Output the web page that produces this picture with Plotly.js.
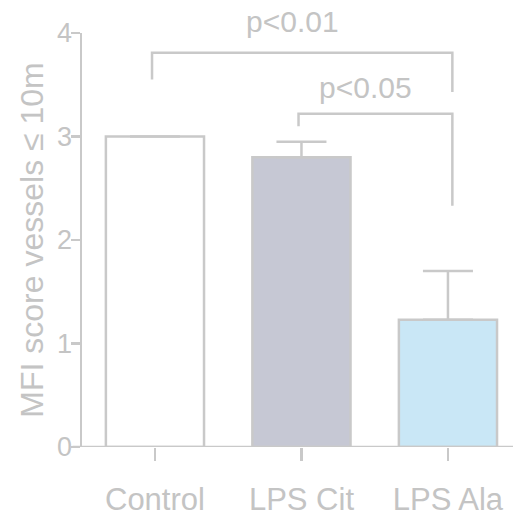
<!DOCTYPE html>
<html>
<head>
<meta charset="utf-8">
<script src="https://cdn.plot.ly/plotly-3.0.1.min.js"></script>
<style>html,body{margin:0;padding:0;background:#fff}#chart{width:513px;height:518px}</style>
</head>
<body>
<div id="chart"></div>
<script>
// Data
const categories = ["Control", "LPS Cit", "LPS Ala"];
const means = [3.0, 2.80, 1.23];
const errUp = [0, 0.15, 0.47];
const yTickVals = [0, 1, 2, 3, 4];
const yTickText = ["0", "1", "2", "3", "4"];
// significance brackets
const bracketFrom = [0, 1];
const bracketTo = [2, 2];
const bracketY = [3.81, 3.22];
const bracketLeftEnd = [3.55, 3.10];
const bracketRightEnd = [3.43, 2.33];
const bracketLabelX = [0.94, 1.44];
const bracketLabelY = [4.11, 3.47];
const bracketLabels = ["p<0.01", "p<0.05"];

const yMax = 4;
const grey = "#c9c9c9";
const textGrey = "#c4c4c4";
const fills = ["#ffffff", "#c6c8d4", "#c9e7f6"];

const trace = {
  type: "bar",
  x: categories.map((c, i) => i),
  y: means,
  width: 0.67,
  marker: {color: fills, line: {color: grey, width: 2.5}},
  error_y: {type: "data", symmetric: false, array: errUp, arrayminus: errUp.map(() => 0),
            color: grey, thickness: 2.5, width: 25, visible: true},
  hoverinfo: "none"
};

const shapes = [];
const annotations = [];
for (let k = 0; k < bracketLabels.length; k++) {
  const x0 = bracketFrom[k] - 0.02, x1 = bracketTo[k] + 0.03;
  shapes.push({type: "path", xref: "x", yref: "y",
    path: `M ${x0},${bracketLeftEnd[k]} L ${x0},${bracketY[k]} L ${x1},${bracketY[k]} L ${x1},${bracketRightEnd[k]}`,
    line: {color: grey, width: 2.5}});
  annotations.push({xref: "x", yref: "paper", x: bracketLabelX[k], y: bracketLabelY[k] / yMax,
    yanchor: "middle", text: bracketLabels[k], showarrow: false,
    font: {family: "Liberation Sans, Arial, sans-serif", size: 30, color: textGrey}});
}
// x axis baseline extending left of the y axis (Prism style)
shapes.push({type: "line", xref: "paper", yref: "y", x0: -0.022, x1: 1, y0: 0, y1: 0,
  line: {color: grey, width: 2.5}});

const layout = {
  width: 513, height: 518,
  margin: {l: 82, r: 0, t: 33, b: 71},
  paper_bgcolor: "#fff", plot_bgcolor: "#fff",
  showlegend: false,
  xaxis: {range: [-0.498, 2.444], tickvals: [0, 1, 2], ticktext: categories,
    showline: false, showgrid: false, zeroline: false,
    ticks: "outside", ticklen: 13, tickwidth: 2.5, tickcolor: grey, ticklabelstandoff: 12,
    tickfont: {family: "Liberation Sans, Arial, sans-serif", size: 31, color: textGrey},
    fixedrange: true},
  yaxis: {range: [0, yMax], tickvals: yTickVals, ticktext: yTickText,
    showline: true, linecolor: grey, linewidth: 2.5, showgrid: false, zeroline: false,
    ticks: "outside", ticklen: 9, tickwidth: 2.5, tickcolor: grey, ticklabelstandoff: -7,
    tickfont: {family: "Liberation Sans, Arial, sans-serif", size: 27, color: textGrey},
    title: {text: "MFI score vessels ≤ 10m", standoff: 4,
      font: {family: "Liberation Sans, Arial, sans-serif", size: 32, color: textGrey}},
    fixedrange: true},
  shapes: shapes,
  annotations: annotations
};

Plotly.newPlot("chart", [trace], layout, {displayModeBar: false, staticPlot: true});
</script>
</body>
</html>
